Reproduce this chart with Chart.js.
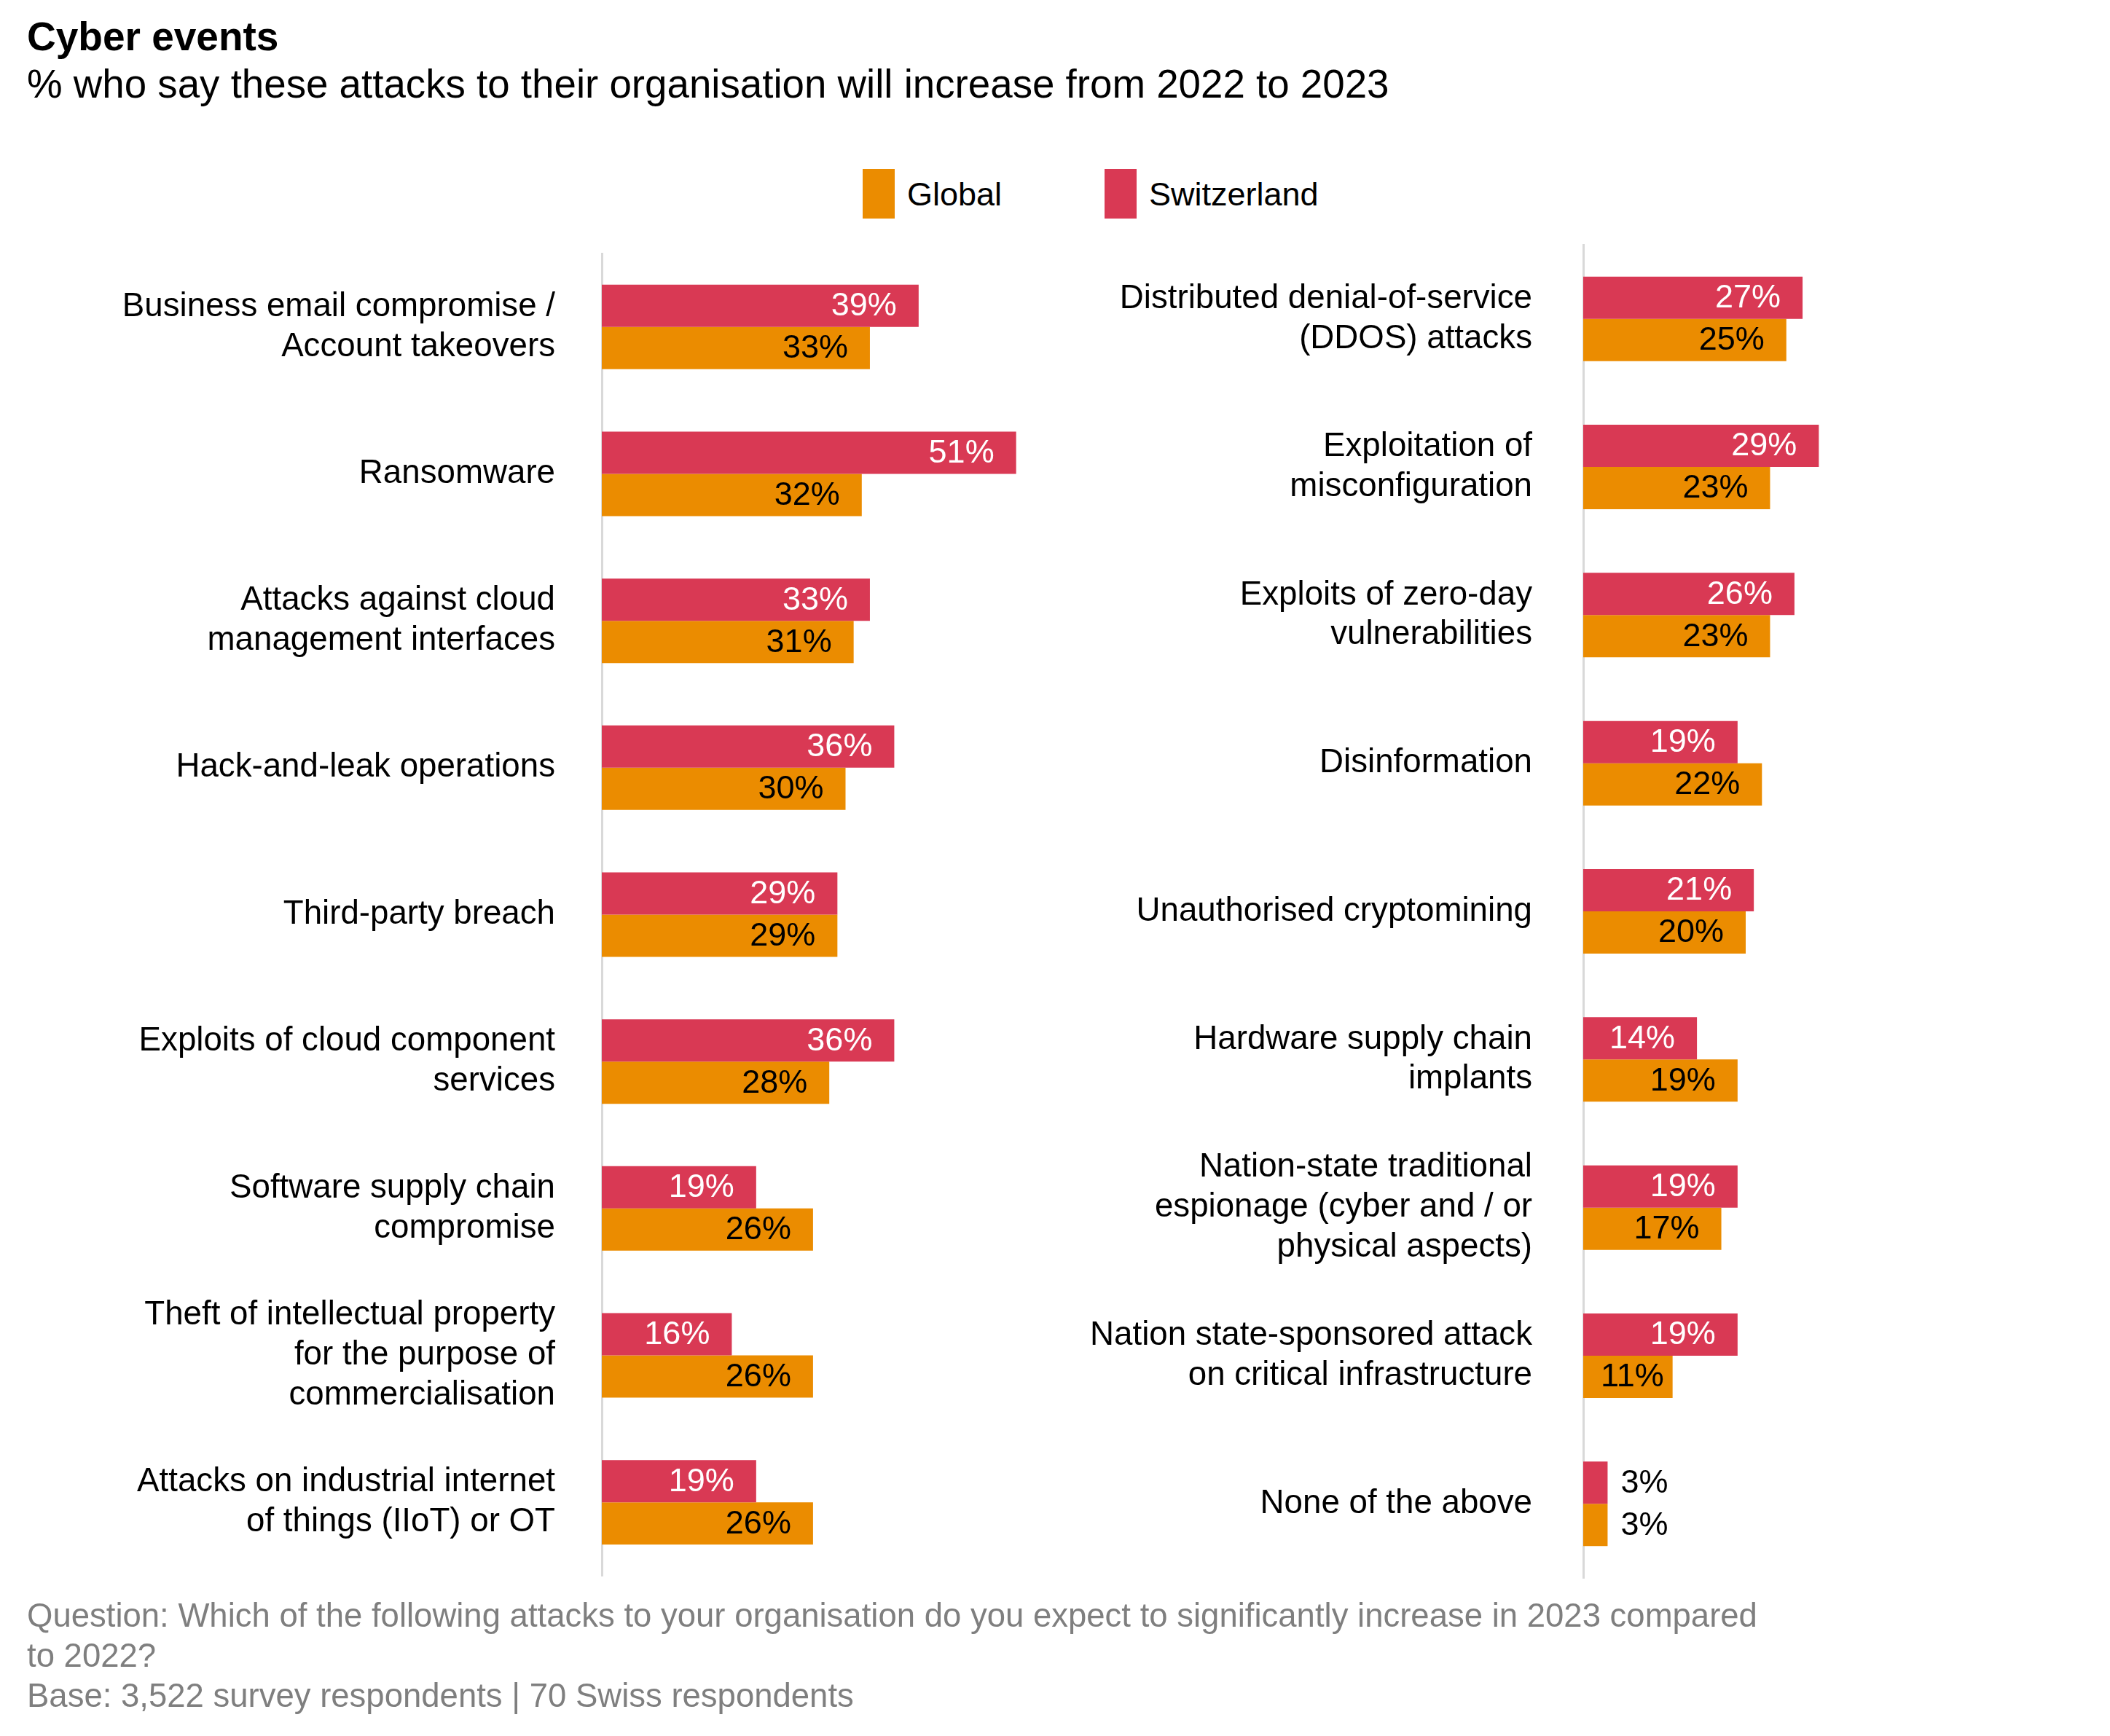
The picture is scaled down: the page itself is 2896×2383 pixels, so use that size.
<!DOCTYPE html>
<html>
<head>
<meta charset="utf-8">
<script src="https://cdn.jsdelivr.net/npm/chart.js@4.4.0/dist/chart.umd.min.js"></script>
<style>
html,body{margin:0;padding:0;background:#fff;}
body{width:2896px;height:2383px;position:relative;overflow:hidden;font-family:'Liberation Sans',Arial,sans-serif;color:#000;}
.abs{position:absolute;white-space:nowrap;}
#title{left:37px;top:23px;font-size:55px;line-height:55px;font-weight:bold;}
#subtitle{left:37px;top:88px;font-size:54.7px;line-height:55px;}
.lg-box{position:absolute;top:232px;width:44px;height:68px;}
.lg-text{position:absolute;top:244px;font-size:45px;line-height:45px;white-space:nowrap;}
#footer{left:37px;top:2190px;font-size:45.5px;line-height:55px;color:#7f7f7f;}
#wrapL{position:absolute;left:0;top:218px;}
#wrapR{position:absolute;left:1450px;top:206px;}
</style>
</head>
<body>
<div id="title" class="abs">Cyber events</div>
<div id="subtitle" class="abs">% who say these attacks to their organisation will increase from 2022 to 2023</div>
<div id="legend"></div>
<div id="wrapL"><canvas id="chartL" width="1495" height="2075"></canvas></div>
<div id="wrapR"><canvas id="chartR" width="1392" height="2090"></canvas></div>
<div id="footer" class="abs"></div>
<script>
// ---- Data ----
const leftCategories = [
  ["Business email compromise /", "Account takeovers"],
  ["Ransomware"],
  ["Attacks against cloud", "management interfaces"],
  ["Hack-and-leak operations"],
  ["Third-party breach"],
  ["Exploits of cloud component", "services"],
  ["Software supply chain", "compromise"],
  ["Theft of intellectual property", "for the purpose of", "commercialisation"],
  ["Attacks on industrial internet", "of things (IIoT) or OT"]
];
const leftSwitzerland = [39, 51, 33, 36, 29, 36, 19, 16, 19];
const leftGlobal      = [33, 32, 31, 30, 29, 28, 26, 26, 26];

const rightCategories = [
  ["Distributed denial-of-service", "(DDOS) attacks"],
  ["Exploitation of", "misconfiguration"],
  ["Exploits of zero-day", "vulnerabilities"],
  ["Disinformation"],
  ["Unauthorised cryptomining"],
  ["Hardware supply chain", "implants"],
  ["Nation-state traditional", "espionage (cyber and / or", "physical aspects)"],
  ["Nation state-sponsored attack", "on critical infrastructure"],
  ["None of the above"]
];
const rightSwitzerland = [27, 29, 26, 19, 21, 14, 19, 19, 3];
const rightGlobal      = [25, 23, 23, 22, 20, 19, 17, 11, 3];

const seriesNames = ["Global", "Switzerland"];
const footerLines = [
  "Question: Which of the following attacks to your organisation do you expect to significantly increase in 2023 compared",
  "to 2022?",
  "Base: 3,522 survey respondents | 70 Swiss respondents"
];

// ---- Styles ----
const COLORS = { "Global": "#EB8C00", "Switzerland": "#D93954" };
const LABEL_COLORS = { "Global": "#000000", "Switzerland": "#FFFFFF" };
const FONT = "'Liberation Sans', Arial, Helvetica, sans-serif";
const X_MAX = 60;

// Legend (HTML) and footer
(function(){
  const lg = document.getElementById('legend');
  const pos = [{box:1184, text:1245}, {box:1516, text:1577}];
  seriesNames.forEach((n, i) => {
    const b = document.createElement('div');
    b.className = 'lg-box'; b.style.left = pos[i].box + 'px'; b.style.background = COLORS[n];
    const t = document.createElement('div');
    t.className = 'lg-text'; t.style.left = pos[i].text + 'px'; t.textContent = n;
    lg.appendChild(b); lg.appendChild(t);
  });
  const f = document.getElementById('footer');
  f.innerHTML = footerLines.map(l => l.replace(/&/g,'&amp;').replace(/</g,'&lt;')).join('<br>');
})();

const valueLabels = {
  id: 'valueLabels',
  afterDatasetsDraw(chart) {
    const ctx = chart.ctx;
    ctx.save();
    ctx.font = "45px " + FONT;
    ctx.textBaseline = 'middle';
    chart.data.datasets.forEach((ds, di) => {
      const meta = chart.getDatasetMeta(di);
      meta.data.forEach((bar, i) => {
        const v = ds.data[i];
        const txt = v + '%';
        const w = ctx.measureText(txt).width;
        if (v >= 6) {
          ctx.fillStyle = LABEL_COLORS[ds.label];
          let right = bar.x - 30;
          if (right - w < bar.base + 24) {
            ctx.textAlign = 'left';
            ctx.fillText(txt, bar.base + 24, bar.y + 1);
          } else {
            ctx.textAlign = 'right';
            ctx.fillText(txt, right, bar.y + 1);
          }
        } else {
          ctx.textAlign = 'left';
          ctx.fillStyle = '#000000';
          ctx.fillText(txt, bar.x + 18, bar.y + 1);
        }
      });
    });
    ctx.restore();
  }
};

function makeChart(id, cats, swiss, glob, axisWidth, tickPad, catPct) {
  return new Chart(document.getElementById(id), {
    type: 'bar',
    data: {
      labels: cats,
      datasets: [
        { label: 'Switzerland', data: swiss, backgroundColor: COLORS['Switzerland'] },
        { label: 'Global', data: glob, backgroundColor: COLORS['Global'] }
      ]
    },
    options: {
      indexAxis: 'y',
      responsive: false,
      animation: false,
      devicePixelRatio: 1,
      layout: { padding: { top: 130, bottom: 130, left: 0, right: 0 } },
      datasets: { bar: { categoryPercentage: catPct, barPercentage: 1, borderWidth: 0 } },
      plugins: { legend: { display: false }, tooltip: { enabled: false } },
      scales: {
        x: { display: false, min: 0, max: X_MAX },
        y: {
          grid: { display: false, drawTicks: false },
          border: { display: true, color: '#D9D9D9', width: 3 },
          ticks: { color: '#000000', padding: tickPad, autoSkip: false,
                   font: { size: 45.7, family: FONT, lineHeight: 1.2 } },
          afterFit(scale) { scale.width = axisWidth; }
        }
      }
    },
    plugins: [valueLabels]
  });
}

makeChart('chartL', leftCategories, leftSwitzerland, leftGlobal, 826, 64, 116 / 201.7);
makeChart('chartR', rightCategories, rightSwitzerland, rightGlobal, 723, 70, 116 / 203.4);
</script>
</body>
</html>
